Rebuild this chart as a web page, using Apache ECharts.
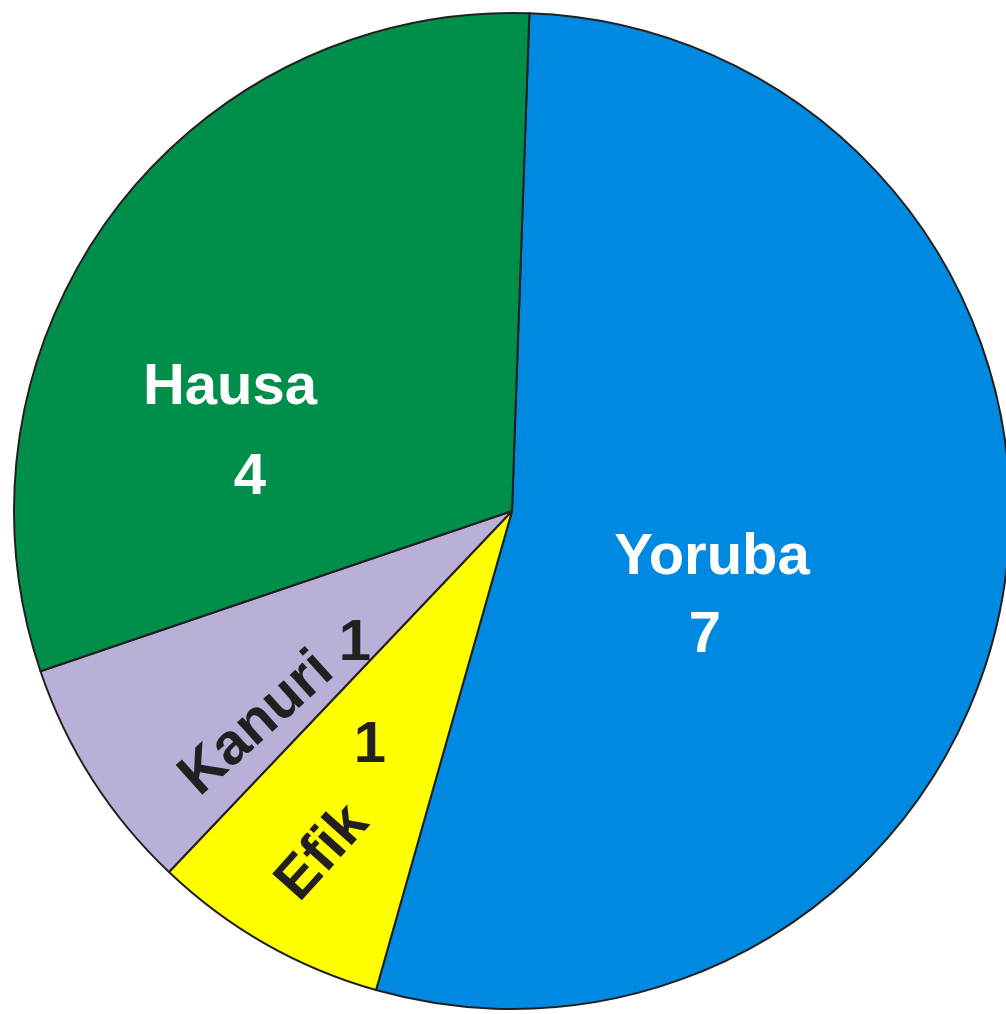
<!DOCTYPE html>
<html>
<head>
<meta charset="utf-8">
<title>Pie</title>
<script src="https://cdn.jsdelivr.net/npm/echarts@6/dist/echarts.min.js"></script>
<style>
  html, body { margin: 0; padding: 0; background: #fff; }
  #chart { width: 1006px; height: 1014px; }
</style>
</head>
<body>
<div id="chart"></div>
<script>
  // data, clockwise from the top
  const names = ['Yoruba', 'Efik', 'Kanuri', 'Hausa'];
  const values = [7, 1, 1, 4];
  const colors = ['#0089e0', '#ffff00', '#b9afd7', '#008f4a'];
  const textColors = ['#ffffff', '#231f20', '#231f20', '#ffffff'];

  // label placement: [x, y, rotate]
  const namePos = [[712, 558, 0], [323, 853, 48], [257, 724, 42], [230, 388, 0]];
  const valuePos = [[705, 636], [370, 746], [355, 644], [250, 478]];

  const font = 'bold 58px "Liberation Sans", Arial, sans-serif';

  const chart = echarts.init(document.getElementById('chart'));

  const option = {
    animation: false,
    series: [
      {
        type: 'pie',
        center: [512, 511],
        radius: 498,
        startAngle: 88,
        clockwise: true,
        itemStyle: { borderColor: '#231f20', borderWidth: 2 },
        label: {
          show: true,
          position: 'inside',
          formatter: '{b}',
          fontFamily: '"Liberation Sans", Arial, sans-serif',
          fontWeight: 'bold',
          fontSize: 58,
        },
        labelLine: { show: false },
        labelLayout: function (params) {
          const p = namePos[params.dataIndex];
          return { x: p[0], y: p[1], rotate: p[2], align: 'center', verticalAlign: 'middle' };
        },
        emphasis: { disabled: true },
        data: names.map((n, i) => ({
          name: n,
          value: values[i],
          itemStyle: { color: colors[i] },
          label: { color: textColors[i] },
        })),
      },
    ],
    graphic: values.map((v, i) => ({
      type: 'text',
      x: valuePos[i][0],
      y: valuePos[i][1],
      z: 100,
      style: {
        text: String(v),
        font: font,
        fill: textColors[i],
        textAlign: 'center',
        textVerticalAlign: 'middle',
        align: 'center',
        verticalAlign: 'middle',
      },
    })),
  };

  chart.setOption(option);
</script>
</body>
</html>
